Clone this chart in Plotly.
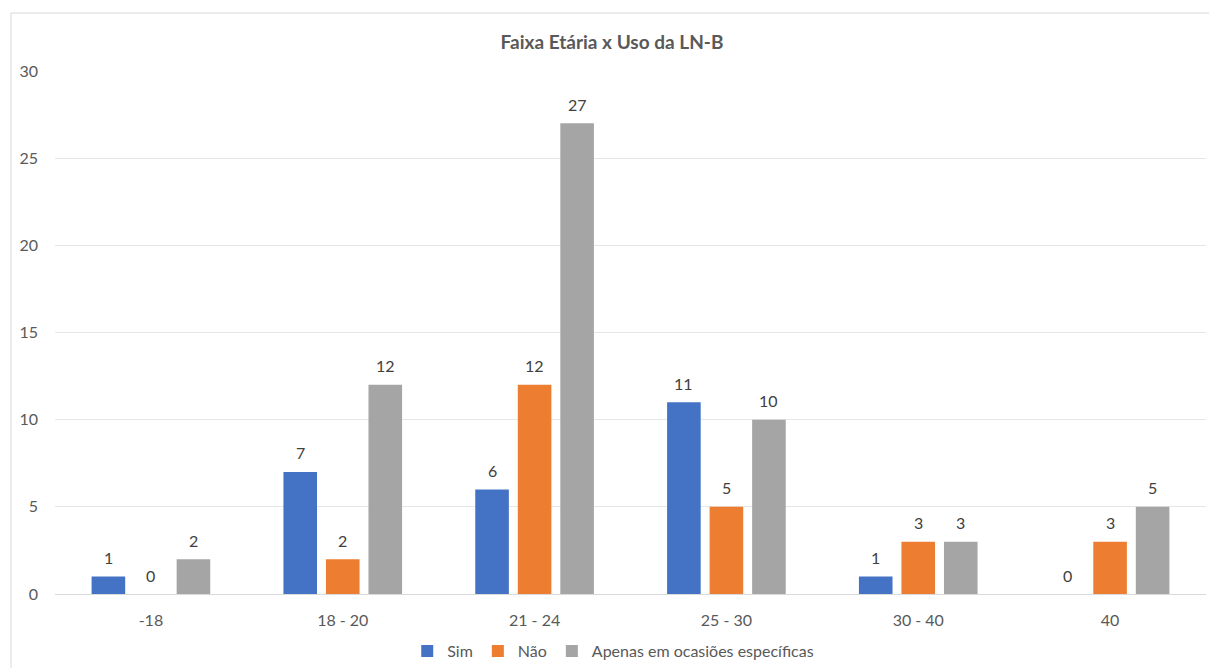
import plotly.graph_objects as go

# Age brackets and answer counts per bracket
categories = ["-18", "18 - 20", "21 - 24", "25 - 30", "30 - 40", "40"]
sim = [1, 7, 6, 11, 1, 0]
nao = [0, 2, 12, 5, 3, 3]
apenas = [2, 12, 27, 10, 3, 5]
y_ticks = [0, 5, 10, 15, 20, 25, 30]

series = [
    ("Sim", sim, "#4472C4"),
    ("Não", nao, "#ED7D31"),
    ("Apenas em ocasiões específicas", apenas, "#A5A5A5"),
]

FONT = "Lato, Open Sans, sans-serif"

W, H = 1209, 668
L, R, T, B = 55, 3, 71, 74
pw, ph = W - L - R, H - T - B

fig = go.Figure()
for name, vals, color in series:
    fig.add_trace(go.Bar(
        x=categories,
        y=vals,
        name=name,
        marker=dict(color=color, line=dict(width=0)),
        cliponaxis=False,
    ))

# Value labels above each bar (pixel offset of each series inside its group);
# x is given as the category index so labels like "-18" stay categorical
bar_pitch = pw / len(categories) * (1 - 0.335) / 3
for i, (name, vals, color) in enumerate(series):
    for j, v in enumerate(vals):
        fig.add_annotation(
            x=j, y=v, xref="x", yref="y",
            text=str(v), showarrow=False,
            xshift=(i - 1) * bar_pitch, yshift=19,
            yanchor="middle", xanchor="center",
            font=dict(family=FONT, size=16, color="#404040"),
        )

fig.update_layout(
    width=W,
    height=H,
    margin=dict(l=L, r=R, t=T, b=B, autoexpand=False),
    paper_bgcolor="white",
    plot_bgcolor="white",
    barmode="group",
    bargap=0.335,
    bargroupgap=0.21,
    font=dict(family=FONT, color="#595959", size=16),
    title=dict(
        text="<b>Faixa Etária x Uso da LN-B</b>",
        x=612 / W,
        xanchor="center",
        xref="container",
        y=1 - 42 / H,
        yref="container",
        yanchor="middle",
        font=dict(family=FONT, size=19, color="#595959"),
    ),
    xaxis=dict(
        type="category",
        range=[-0.5, 5.5],
        showgrid=False,
        showline=True,
        linecolor="#d9d9d9",
        linewidth=1,
        ticks="",
        ticklabelstandoff=12,
        tickfont=dict(family=FONT, size=16, color="#595959"),
        automargin=False,
        fixedrange=True,
    ),
    yaxis=dict(
        range=[0, 30],
        tickvals=y_ticks,
        showgrid=True,
        gridcolor="#e6e6e6",
        gridwidth=1,
        zeroline=False,
        showline=False,
        ticks="",
        ticklabelstandoff=16,
        tickfont=dict(family=FONT, size=16, color="#595959"),
        automargin=False,
        fixedrange=True,
    ),
    legend=dict(
        orientation="h",
        x=0.485,
        xanchor="center",
        y=(594 - 651) / ph,
        yanchor="middle",
        font=dict(family=FONT, size=16, color="#595959"),
        itemwidth=30,
        traceorder="normal",
        bgcolor="rgba(0,0,0,0)",
    ),
    showlegend=True,
)

# Chart frame: top and left border
fig.add_shape(type="line", xref="paper", yref="paper",
              x0=(11 - L) / pw, x1=(W - L) / pw + 0.01,
              y0=(594 - 13) / ph, y1=(594 - 13) / ph,
              line=dict(color="#d9d9d9", width=1))
fig.add_shape(type="line", xref="paper", yref="paper",
              x0=(11 - L) / pw, x1=(11 - L) / pw,
              y0=(594 - 13) / ph, y1=(594 - H) / ph,
              line=dict(color="#d9d9d9", width=1))

fig.write_html("out.html")
